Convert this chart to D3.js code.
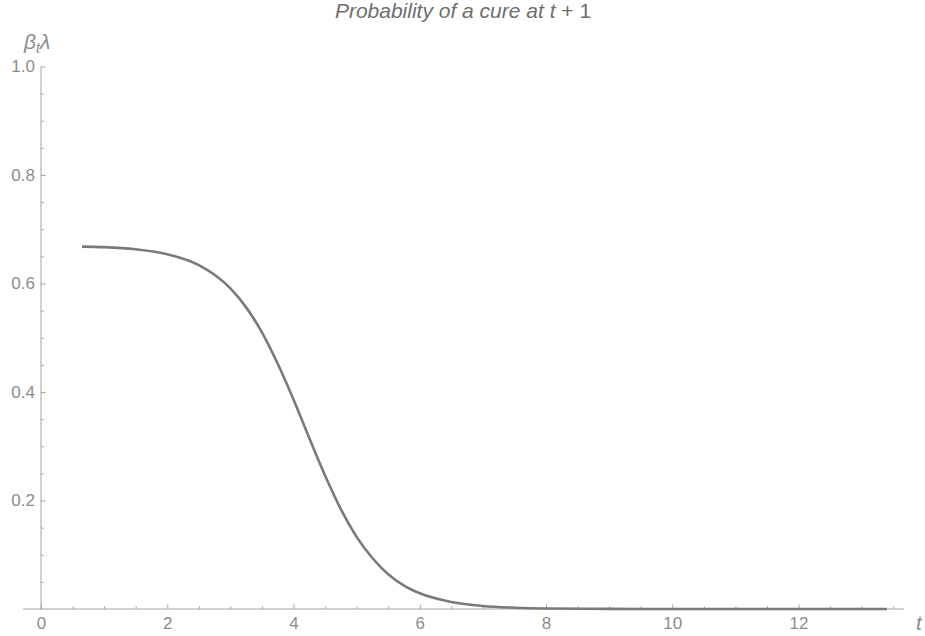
<!DOCTYPE html>
<html>
<head>
<meta charset="utf-8">
<script src="https://cdn.jsdelivr.net/npm/d3@7"></script>
<style>
  html, body { margin: 0; padding: 0; background: #fff; }
  svg { display: block; font-family: "Liberation Sans", Arial, sans-serif; }
</style>
</head>
<body>
<svg id="chart" width="925" height="636"></svg>
<script>
// ---- data ----
const tValues = [0.65, 1.0, 1.5, 2.0, 2.5, 2.75, 3.0, 3.25, 3.5, 3.75, 4.0, 4.25, 4.5, 4.75,
                 5.0, 5.25, 5.5, 5.75, 6.0, 6.5, 7.0, 7.5, 8.0, 9.0, 10.0, 11.0, 12.0, 13.4];
const probValues = [0.668, 0.667, 0.663, 0.654, 0.634, 0.616, 0.591, 0.556, 0.510, 0.452, 0.386, 0.315,
                    0.246, 0.184, 0.133, 0.094, 0.064, 0.043, 0.029, 0.013, 0.0055, 0.0024, 0.001,
                    0.0002, 0.0, 0.0, 0.0, 0.0];
const xMajorTicks = [0, 2, 4, 6, 8, 10, 12];
const yMajorTicks = [0.2, 0.4, 0.6, 0.8, 1.0];
const yTickLabels = ["0.2", "0.4", "0.6", "0.8", "1.0"];
const titleText = "Probability of a cure at ";

// ---- layout ----
const svg = d3.select("#chart");
const x = d3.scaleLinear().domain([0, 12]).range([41, 798.5]);
const y = d3.scaleLinear().domain([0, 1]).range([609, 66.5]);

const axisColor = "#a3a3a3";
const labelColor = "#8c8c8c";

// minor ticks
const xMinor = d3.range(0.5, 13.51, 0.5).filter(v => Math.abs(v % 2) > 1e-9);
const yMinor = d3.range(1, 20).filter(k => k % 4 !== 0).map(k => k * 0.05);

// axis lines
svg.append("line")
  .attr("x1", x(-0.285)).attr("x2", x(13.67))
  .attr("y1", y(0)).attr("y2", y(0))
  .attr("stroke", axisColor).attr("stroke-width", 1);
svg.append("line")
  .attr("x1", x(0)).attr("x2", x(0))
  .attr("y1", y(0)).attr("y2", y(1))
  .attr("stroke", axisColor).attr("stroke-width", 1);

// x axis ticks
const gx = svg.append("g").attr("transform", `translate(0,${y(0)})`)
  .call(d3.axisBottom(x).tickValues(xMajorTicks).tickSizeInner(-4.5).tickSizeOuter(0).tickPadding(8).tickFormat(d3.format("d")));
const gxm = svg.append("g").attr("transform", `translate(0,${y(0)})`)
  .call(d3.axisBottom(x).tickValues(xMinor).tickSizeInner(-2.7).tickSizeOuter(0).tickFormat(""));

// y axis ticks
const gy = svg.append("g").attr("transform", `translate(${x(0)},0)`)
  .call(d3.axisLeft(y).tickValues(yMajorTicks).tickSizeInner(-4.5).tickSizeOuter(0).tickPadding(6)
    .tickFormat((d, i) => yTickLabels[i]));
const gym = svg.append("g").attr("transform", `translate(${x(0)},0)`)
  .call(d3.axisLeft(y).tickValues(yMinor).tickSizeInner(-2.7).tickSizeOuter(0).tickFormat(""));

[gx, gxm, gy, gym].forEach(g => {
  g.select(".domain").remove();
  g.selectAll(".tick line").attr("stroke", axisColor);
  g.selectAll(".tick text").attr("fill", labelColor).attr("font-size", 17)
    .attr("font-family", "'Liberation Sans', Arial, sans-serif");
});

// curve
const pts = tValues.map((t, i) => [t, probValues[i]]);
svg.append("path")
  .datum(pts)
  .attr("fill", "none")
  .attr("stroke", "#7a7a7a")
  .attr("stroke-width", 2.6)
  .attr("d", d3.line().x(d => x(d[0])).y(d => y(d[1])).curve(d3.curveMonotoneX));

// title
const title = svg.append("text")
  .attr("x", 463).attr("y", 18)
  .attr("text-anchor", "middle")
  .attr("font-size", 21)
  .attr("font-style", "italic")
  .attr("fill", "#6e6e6e");
title.append("tspan").text(titleText);
title.append("tspan").text("t");
title.append("tspan").text(" + 1").attr("font-style", "normal");

// y label  β_t λ
const yl = svg.append("text")
  .attr("x", 24).attr("y", 49)
  .attr("font-size", 21)
  .attr("font-style", "italic")
  .attr("fill", labelColor);
yl.append("tspan").text("β");
yl.append("tspan").text("t").attr("font-size", 14).attr("dy", 4);
yl.append("tspan").text("λ").attr("dy", -4);

// x label t
svg.append("text")
  .attr("x", 916).attr("y", 630)
  .attr("font-size", 21)
  .attr("font-style", "italic")
  .attr("fill", labelColor)
  .text("t");
</script>
</body>
</html>
